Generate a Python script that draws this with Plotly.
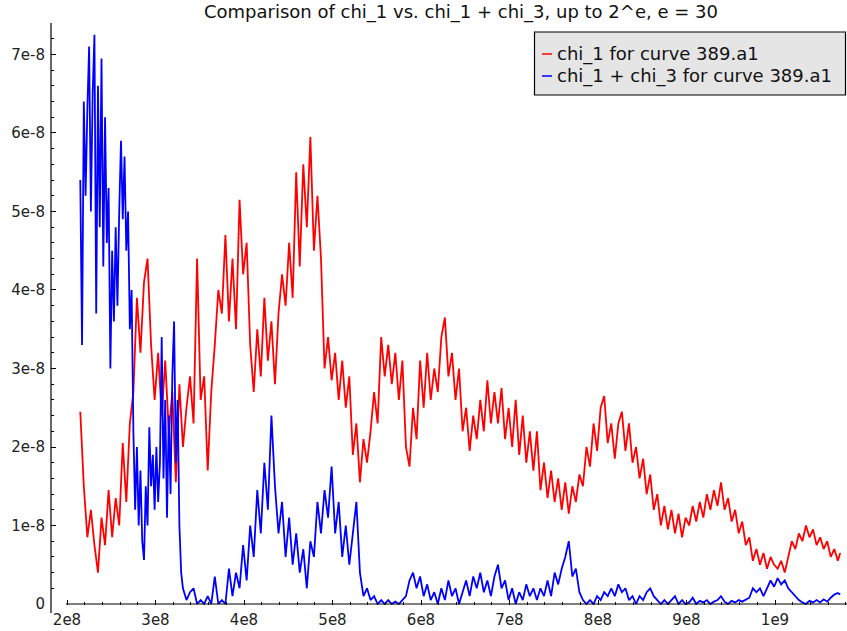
import plotly.graph_objects as go

# ---------------- data (x in units of 1e8, y in units of 1e-8) ----------------
x_grid_e8 = [
    2.15, 2.19, 2.23, 2.27, 2.31, 2.35, 2.39, 2.43, 2.47, 2.51,
    2.55, 2.59, 2.63, 2.67, 2.71, 2.75, 2.79, 2.83, 2.87, 2.91,
    2.95, 2.99, 3.03, 3.07, 3.11, 3.15, 3.19, 3.23, 3.27, 3.31,
    3.35, 3.39, 3.43, 3.47, 3.51, 3.55, 3.59, 3.63, 3.67, 3.71,
    3.75, 3.79, 3.83, 3.87, 3.91, 3.95, 3.99, 4.03, 4.07, 4.11,
    4.15, 4.19, 4.23, 4.27, 4.31, 4.35, 4.39, 4.43, 4.47, 4.51,
    4.55, 4.59, 4.63, 4.67, 4.71, 4.75, 4.79, 4.83, 4.87, 4.91,
    4.95, 4.99, 5.03, 5.07, 5.11, 5.15, 5.19, 5.23, 5.27, 5.31,
    5.35, 5.39, 5.43, 5.47, 5.51, 5.55, 5.59, 5.63, 5.67, 5.71,
    5.75, 5.79, 5.83, 5.87, 5.91, 5.95, 5.99, 6.03, 6.07, 6.11,
    6.15, 6.19, 6.23, 6.27, 6.31, 6.35, 6.39, 6.43, 6.47, 6.51,
    6.55, 6.59, 6.63, 6.67, 6.71, 6.75, 6.79, 6.83, 6.87, 6.91,
    6.95, 6.99, 7.03, 7.07, 7.11, 7.15, 7.19, 7.23, 7.27, 7.31,
    7.35, 7.39, 7.43, 7.47, 7.51, 7.55, 7.59, 7.63, 7.67, 7.71,
    7.75, 7.79, 7.83, 7.87, 7.91, 7.95, 7.99, 8.03, 8.07, 8.11,
    8.15, 8.19, 8.23, 8.27, 8.31, 8.35, 8.39, 8.43, 8.47, 8.51,
    8.55, 8.59, 8.63, 8.67, 8.71, 8.75, 8.79, 8.83, 8.87, 8.91,
    8.95, 8.99, 9.03, 9.07, 9.11, 9.15, 9.19, 9.23, 9.27, 9.31,
    9.35, 9.39, 9.43, 9.47, 9.51, 9.55, 9.59, 9.63, 9.67, 9.71,
    9.75, 9.79, 9.83, 9.87, 9.91, 9.95, 9.99, 10.03, 10.07, 10.11,
    10.15, 10.19, 10.23, 10.27, 10.31, 10.35, 10.39, 10.43, 10.47, 10.51,
    10.55, 10.59, 10.63, 10.67, 10.71, 10.737,
]

chi1_e8 = [
    2.45, 1.5, 0.85, 1.2, 0.75, 0.4, 1.1, 0.75, 1.45, 0.85,
    1.35, 1.0, 2.05, 1.3, 2.3, 2.7, 3.9, 3.2, 4.1, 4.4,
    3.3, 2.6, 3.2, 2.4, 3.1, 2.2, 2.7, 1.55, 2.8, 2.0,
    2.5, 2.9, 2.3, 4.4, 2.6, 2.9, 1.7, 2.7, 3.3, 4.0,
    3.7, 4.7, 3.6, 4.4, 3.5, 5.15, 4.2, 4.6, 3.3, 2.7,
    3.5, 2.9, 3.9, 3.1, 3.6, 2.8, 3.7, 4.2, 3.8, 4.6,
    3.9, 5.5, 4.3, 5.6, 4.8, 5.95, 4.5, 5.2, 4.4, 3.0,
    3.4, 2.85, 3.2, 2.6, 3.1, 2.5, 2.9, 1.9, 2.3, 1.55,
    2.1, 1.8, 2.2, 2.7, 2.3, 3.4, 2.9, 3.3, 2.8, 3.2,
    2.6, 3.1, 2.0, 1.75, 2.5, 2.1, 3.1, 2.5, 3.2, 2.6,
    3.0, 2.7, 3.4, 3.65, 2.9, 3.2, 2.6, 3.0, 2.2, 2.5,
    1.95, 2.4, 2.1, 2.6, 2.2, 2.85, 2.3, 2.7, 2.3, 2.75,
    2.1, 2.5, 2.0, 2.6, 1.9, 2.4, 1.8, 2.2, 1.7, 2.2,
    1.45, 1.8, 1.35, 1.7, 1.3, 1.6, 1.2, 1.55, 1.15, 1.5,
    1.3, 1.65, 1.5, 2.0, 1.75, 2.3, 1.95, 2.5, 2.65, 2.05,
    2.3, 1.85, 2.3, 2.45, 1.95, 2.3, 1.8, 2.0, 1.6, 1.85,
    1.4, 1.65, 1.2, 1.4, 1.0, 1.25, 0.95, 1.2, 0.9, 1.15,
    0.85, 1.1, 1.0, 1.25, 1.05, 1.3, 1.1, 1.4, 1.2, 1.45,
    1.25, 1.55, 1.2, 1.35, 1.05, 1.2, 0.9, 1.05, 0.75, 0.85,
    0.55, 0.7, 0.5, 0.65, 0.45, 0.6, 0.5, 0.45, 0.55, 0.4,
    0.6, 0.8, 0.7, 0.9, 0.8, 1.0, 0.85, 0.95, 0.75, 0.85,
    0.7, 0.8, 0.6, 0.7, 0.55, 0.65,
]

# finer sampling for the dense start of the chi_1 + chi_3 curve
x_fine_e8 = [
    2.15, 2.17, 2.19, 2.21, 2.23, 2.25, 2.27, 2.29, 2.31, 2.33,
    2.35, 2.37, 2.39, 2.41, 2.43, 2.45, 2.47, 2.49, 2.51, 2.53,
    2.55, 2.57, 2.59, 2.61, 2.63, 2.65, 2.67, 2.69, 2.71, 2.73,
    2.75, 2.77, 2.79, 2.81, 2.83, 2.85, 2.87, 2.89, 2.91, 2.93,
    2.95, 2.97, 2.99, 3.01, 3.03, 3.05, 3.07, 3.09, 3.11, 3.13,
    3.15, 3.17, 3.19, 3.21, 3.23, 3.25, 3.27, 3.29,
]
x_sum_e8 = x_fine_e8 + x_grid_e8[29:]

chi13_e8 = [
    5.4, 3.3, 6.4, 5.2, 6.3, 7.1, 5.0, 6.5, 7.25, 3.7,
    6.6, 4.8, 6.95, 4.3, 6.2, 4.6, 5.3, 3.0, 4.5, 3.6,
    4.8, 3.8, 5.0, 5.9, 4.9, 5.7, 4.5, 5.0, 3.5, 4.0,
    2.2, 1.2, 2.0, 1.0, 1.7, 0.8, 0.56, 1.5, 1.0, 2.25,
    1.5, 1.9, 1.2, 2.0, 1.3, 1.8, 3.4, 1.6, 2.6, 1.1,
    2.4, 1.4, 2.9, 3.6, 1.8, 2.6, 1.0, 0.4,
    0.2, 0.05, 0.15, 0.2, 0.0, 0.05, 0.0, 0.1, 0.0, 0.35, 0.0,
    0.05, 0.0, 0.45, 0.1, 0.4, 0.2, 0.75, 0.3, 1.0, 0.6,
    1.45, 0.9, 1.8, 1.2, 2.4, 1.5, 0.9, 1.3, 0.6, 1.1,
    0.5, 0.9, 0.4, 0.7, 0.2, 0.8, 0.6, 1.3, 0.9, 1.45,
    1.1, 1.75, 0.9, 1.3, 0.6, 1.0, 0.5, 0.9, 1.3, 0.4,
    0.1, 0.2, 0.05, 0.1, 0.0, 0.05, 0.0, 0.05, 0.0, 0.03,
    0.0, 0.05, 0.1, 0.3, 0.4, 0.2, 0.35, 0.1, 0.25, 0.05,
    0.15, 0.0, 0.2, 0.05, 0.3, 0.1, 0.2, 0.0, 0.15, 0.3,
    0.1, 0.35, 0.2, 0.4, 0.15, 0.3, 0.1, 0.35, 0.5, 0.2,
    0.3, 0.05, 0.2, 0.0, 0.15, 0.05, 0.25, 0.1, 0.2, 0.05,
    0.2, 0.1, 0.3, 0.1, 0.4, 0.25, 0.45, 0.6, 0.8, 0.35,
    0.45, 0.15, 0.05, 0.0, 0.05, 0.0, 0.1, 0.05, 0.15, 0.1,
    0.2, 0.1, 0.25, 0.15, 0.2, 0.05, 0.1, 0.0, 0.1, 0.05,
    0.15, 0.2, 0.1, 0.05, 0.0, 0.05, 0.0, 0.05, 0.1, 0.0,
    0.05, 0.0, 0.02, 0.08, 0.0, 0.04, 0.02, 0.05, 0.0, 0.03,
    0.05, 0.1, 0.03, 0.0, 0.04, 0.02, 0.05, 0.03, 0.06, 0.08,
    0.2, 0.15, 0.2, 0.1, 0.2, 0.3, 0.22, 0.33, 0.25, 0.3,
    0.2, 0.15, 0.1, 0.05, 0.02, 0.0, 0.04, 0.02, 0.05, 0.02,
    0.06, 0.03, 0.08, 0.12, 0.14, 0.12,
]

x_tick_vals_e8 = [2, 3, 4, 5, 6, 7, 8, 9, 10]
x_tick_text = ["2e8", "3e8", "4e8", "5e8", "6e8", "7e8", "8e8", "9e8", "1e9"]
y_tick_vals_e8 = [0, 1, 2, 3, 4, 5, 6, 7]
y_tick_text = ["0", "1e-8", "2e-8", "3e-8", "4e-8", "5e-8", "6e-8", "7e-8"]

series_names = ["chi_1 for curve 389.a1", "chi_1 + chi_3 for curve 389.a1"]
series_colors = ["#ff0000", "#0000ff"]
title_text = "Comparison of chi_1 vs. chi_1 + chi_3, up to 2^e, e = 30"

# unit conversion
x_chi1 = [v * 1e8 for v in x_grid_e8]
y_chi1 = [v * 1e-8 for v in chi1_e8]
x_chi13 = [v * 1e8 for v in x_sum_e8]
y_chi13 = [v * 1e-8 for v in chi13_e8]

FONT = "DejaVu Sans"

fig = go.Figure()
fig.add_trace(go.Scatter(x=x_chi1, y=y_chi1, mode="lines", name=series_names[0],
                         line=dict(color=series_colors[0], width=1.8), showlegend=False))
fig.add_trace(go.Scatter(x=x_chi13, y=y_chi13, mode="lines", name=series_names[1],
                         line=dict(color=series_colors[1], width=1.8), showlegend=False))

W, H = 847, 631
# plot area in window pixels: x 51..847, y 23..605
PL, PR, PT, PB = 51, 847, 23, 605
L, R, T, B = PL, W - PR, PT, H - PB
pw, ph = PR - PL, PB - PT

x_lo, x_hi = 1.8192e8, 10.8136e8
y_lo, y_hi = -0.0127e-8, 7.401e-8

fig.update_layout(
    width=W, height=H,
    margin=dict(l=L, r=R, t=T, b=B, pad=0, autoexpand=False),
    plot_bgcolor="white", paper_bgcolor="white",
    font=dict(family=FONT, color="#222", size=15),
    xaxis=dict(range=[x_lo, x_hi], showgrid=False, zeroline=False, showline=False,
               automargin=False,
               tickmode="array", tickvals=[v * 1e8 for v in x_tick_vals_e8], ticktext=x_tick_text,
               ticks="inside", ticklen=5, tickwidth=1, tickcolor="black",
               minor=dict(ticks="inside", ticklen=3, tickwidth=1, tickcolor="black",
                          tick0=0, dtick=0.2e8, showgrid=False),
               ticklabelstandoff=4,
               tickfont=dict(family=FONT, size=15, color="#222")),
    yaxis=dict(range=[y_lo, y_hi], showgrid=False, zeroline=False, showline=False,
               automargin=False,
               tickmode="array", tickvals=[v * 1e-8 for v in y_tick_vals_e8], ticktext=y_tick_text,
               ticks="inside", ticklen=5, tickwidth=1, tickcolor="black",
               minor=dict(ticks="inside", ticklen=3, tickwidth=1, tickcolor="black",
                          tick0=0, dtick=0.2e-8, showgrid=False),
               ticklabelstandoff=5,
               tickfont=dict(family=FONT, size=15, color="#222")),
)

def px_x(p):
    return (p - PL) / pw

def px_y(p):
    return (PB - p) / ph

shapes = [
    # y axis line (extends slightly below zero like the original)
    dict(type="line", xref="paper", yref="paper", x0=0, x1=0, y0=px_y(613), y1=1,
         line=dict(color="black", width=1.2)),
    # x axis line at y = 0
    dict(type="line", xref="paper", yref="y", x0=px_x(66), x1=1, y0=0, y1=0,
         line=dict(color="black", width=1.2)),
    # legend frame
    dict(type="rect", xref="paper", yref="paper", x0=px_x(534.5), x1=px_x(845.5),
         y0=px_y(95), y1=px_y(32), fillcolor="#e5e5e5", line=dict(color="black", width=1.2),
         layer="above"),
    dict(type="line", xref="paper", yref="paper", x0=px_x(542), x1=px_x(552),
         y0=px_y(54), y1=px_y(54), line=dict(color=series_colors[0], width=1.5), layer="above"),
    dict(type="line", xref="paper", yref="paper", x0=px_x(542), x1=px_x(552),
         y0=px_y(76), y1=px_y(76), line=dict(color=series_colors[1], width=1.5), layer="above"),
]
fig.update_layout(shapes=shapes)

for name, yy in zip(series_names, [54, 76]):
    fig.add_annotation(text=name, xref="paper", yref="paper", x=px_x(555), y=px_y(yy),
                       xanchor="left", yanchor="middle", showarrow=False,
                       font=dict(family=FONT, size=18, color="#111"))

# title as a positioned text
fig.add_annotation(text=title_text, xref="paper", yref="paper", x=px_x(460.5), y=px_y(12),
                   xanchor="center", yanchor="middle", showarrow=False,
                   font=dict(family=FONT, size=18, color="#111"))

# remove the default 8px page margin so the figure sits at the window origin
fig.write_html("out.html", config={"displayModeBar": False},
               post_script="document.body.style.margin='0';")
